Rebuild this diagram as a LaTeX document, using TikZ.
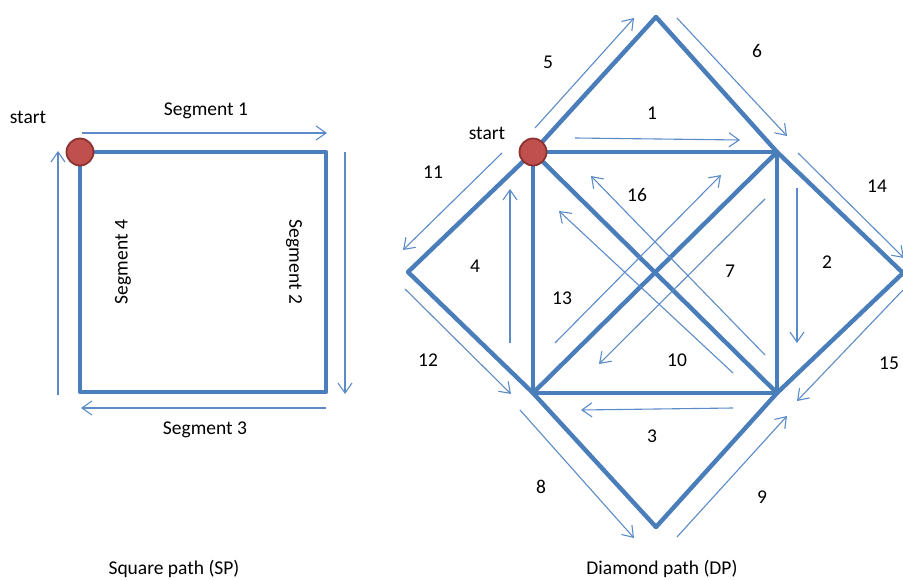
\documentclass[tikz,border=0pt]{standalone}
\usepackage{fontspec}
\setmainfont{Carlito}
\usetikzlibrary{arrows.meta}
\definecolor{thickblue}{RGB}{74,126,187}
\definecolor{thinblue}{RGB}{92,140,200}
\definecolor{startred}{RGB}{192,80,77}
\definecolor{startedge}{RGB}{140,50,48}
\tikzset{
  edgeline/.style={draw=thickblue, line width=4.4pt, line cap=round, line join=round},
  patharrow/.style={draw=thinblue, line width=1.1pt, -{Straight Barb[length=10pt,width=14pt,line width=1.1pt]}},
  lbl/.style={font=\fontsize{19.5}{23}\selectfont, text=black, inner sep=0pt},
  startdot/.style={circle, fill=startred, draw=startedge, line width=1.8pt, minimum size=27pt, inner sep=0pt}
}
\begin{document}
\begin{tikzpicture}[x=1pt,y=-1pt]
\clip (0,0) rectangle (903,580);
\fill[white] (0,0) rectangle (903,580);
% ---------- Square path ----------
\coordinate (sA) at (80,152);
\coordinate (sB) at (326,152);
\coordinate (sC) at (326,392);
\coordinate (sD) at (80,392);
\draw[edgeline] (sA) -- (sB) -- (sC) -- (sD) -- cycle;
\node[startdot] (s0) at (sA) {};
\draw[patharrow] (82,133) -- (327,133);
\draw[patharrow] (345,152) -- (345,394);
\draw[patharrow] (326,408) -- (81,408);
\draw[patharrow] (58,395) -- (58,151);
\node[lbl] (st1) at (28,117) {start};
\node[lbl] (g1) at (206,111) {Segment 1};
\node[lbl, rotate=-90] (g2) at (294,262) {Segment 2};
\node[lbl] (g3) at (205,430) {Segment 3};
\node[lbl, rotate=90] (g4) at (123,262) {Segment 4};
\node[lbl] (cap1) at (174,569) {Square path (SP)};
% ---------- Diamond path ----------
\coordinate (TL) at (533,152);
\coordinate (TR) at (777,152);
\coordinate (BR) at (777,393);
\coordinate (BL) at (533,393);
\coordinate (T) at (656,17);
\coordinate (L) at (408,272);
\coordinate (R) at (903,273);
\coordinate (B) at (656,527);
\draw[edgeline] (TL) -- (TR) -- (BR) -- (BL) -- cycle;
\draw[edgeline] (TL) -- (BR);
\draw[edgeline] (TR) -- (BL);
\draw[edgeline] (TL) -- (T) -- (TR) -- (R) -- (BR) -- (B) -- (BL) -- (L) -- cycle;
\node[startdot] (d0) at (TL) {};
% arrows
\draw[patharrow] (575,138) -- (740,140);   % 1
\draw[patharrow] (797,188) -- (797,343);   % 2
\draw[patharrow] (733,408) -- (581,410);   % 3
\draw[patharrow] (510,343) -- (510,189);   % 4
\draw[patharrow] (535,128) -- (634,18);    % 5
\draw[patharrow] (677,18) -- (787,136);    % 6
\draw[patharrow] (765,199) -- (599,364);   % 7
\draw[patharrow] (520,410) -- (634,538);   % 8
\draw[patharrow] (677,537) -- (787,416);   % 9
\draw[patharrow] (733,373) -- (559,211);   % 10
\draw[patharrow] (502,153) -- (403,250);   % 11
\draw[patharrow] (405,289) -- (511,394);   % 12
\draw[patharrow] (555,343) -- (721,175);   % 13
\draw[patharrow] (798,153) -- (904,258);   % 14
\draw[patharrow] (903,290) -- (797,401);   % 15
\draw[patharrow] (765,355) -- (591,176);   % 16
% labels
\node[lbl] (st2) at (487,133) {start};
\node[lbl] (n1) at (652,113) {1};
\node[lbl] (n2) at (827,262) {2};
\node[lbl] (n3) at (652,436) {3};
\node[lbl] (n4) at (475,266) {4};
\node[lbl] (n5) at (548,62) {5};
\node[lbl] (n6) at (757,51) {6};
\node[lbl] (n7) at (730,271) {7};
\node[lbl] (n8) at (541,487) {8};
\node[lbl] (n9) at (762,497) {9};
\node[lbl] (n10) at (677,360) {10};
\node[lbl] (n11) at (433,172) {11};
\node[lbl] (n12) at (428,360) {12};
\node[lbl] (n13) at (562,298) {13};
\node[lbl] (n14) at (877,186) {14};
\node[lbl] (n15) at (889,363) {15};
\node[lbl] (n16) at (637,195) {16};
\node[lbl] (cap2) at (662,569) {Diamond path (DP)};
\end{tikzpicture}
\end{document}
